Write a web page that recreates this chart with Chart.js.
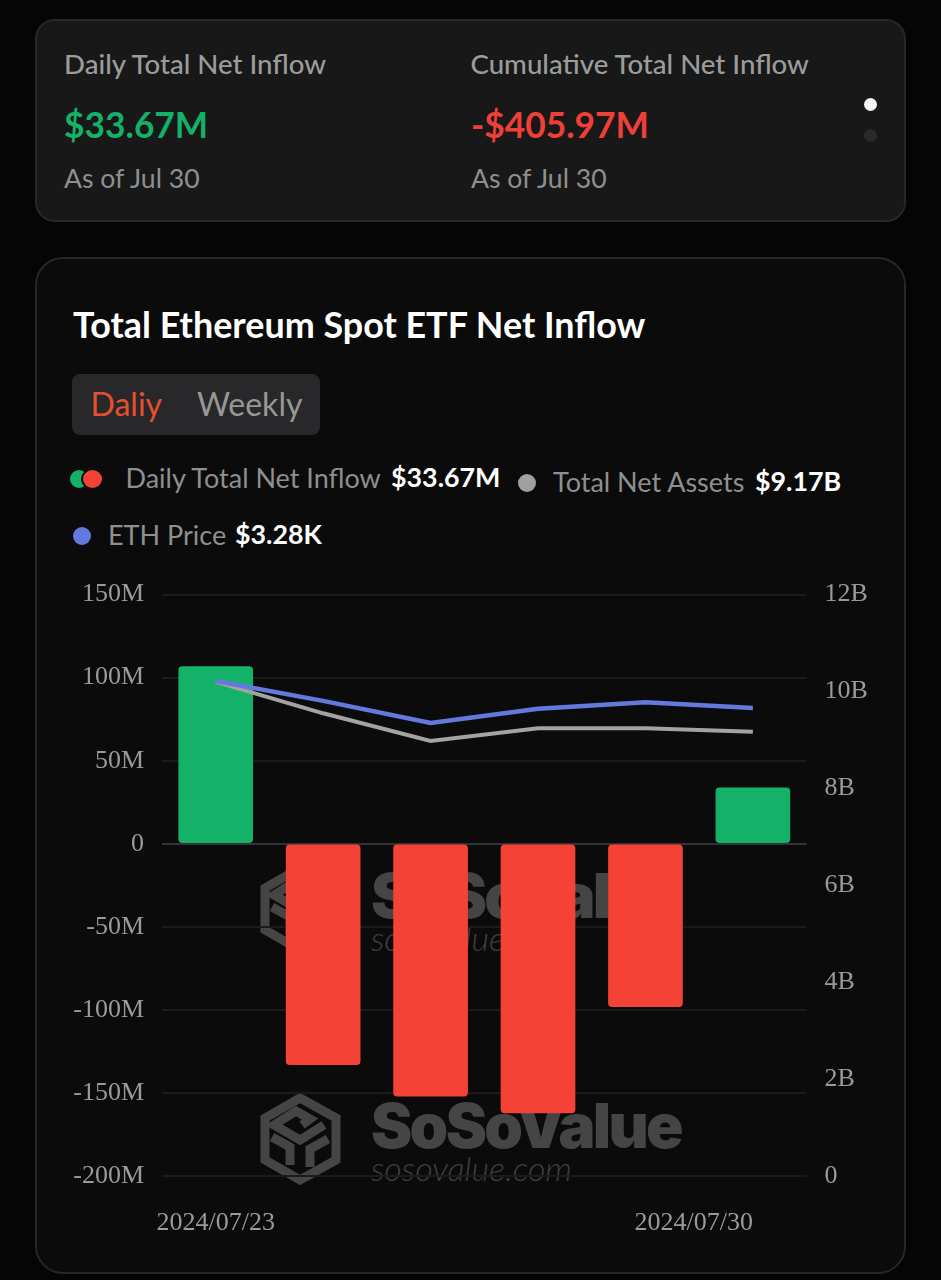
<!DOCTYPE html>
<html><head><meta charset="utf-8">
<script src="https://cdn.jsdelivr.net/npm/chart.js@4"></script>
<style>
html,body{margin:0;padding:0;background:#050505;width:941px;height:1280px;overflow:hidden;font-family:Lato,sans-serif}
.abs{position:absolute;white-space:nowrap;line-height:1}
.card{position:absolute;left:35px;width:867px;box-sizing:content-box;border:2px solid #272728}
#c1{top:19px;height:199px;background:#181818;border-radius:20px}
#c2{top:257px;height:1013px;background:#0b0b0c;border-radius:28px}
.lab{font-size:27.6px;font-weight:500;color:#9c9c9c}
.big{font-size:37px;font-weight:700;transform:scaleX(.955);transform-origin:left center}
.sub{font-size:26.6px;color:#8f8f8f}
.leg{font-size:27px;color:#8f8f8f}
.val{font-size:26.8px;font-weight:700;color:#fff}
.dot{position:absolute;border-radius:50%}
#wrap{position:absolute;left:38px;top:561px;width:830px;height:699px}
.wm{position:absolute;left:260px;width:430px;height:95px;overflow:hidden}
.wm1{font-family:Inter,sans-serif;font-weight:900;font-size:62px;letter-spacing:-2.7px;color:#454545;left:111px;top:2px;position:absolute;line-height:1;white-space:nowrap}
.wm2{font-family:Lato,sans-serif;font-style:italic;font-weight:300;font-size:34px;color:#404040;left:111px;top:58px;position:absolute;line-height:1;white-space:nowrap}
</style></head><body>
<div class="card" id="c1"></div>
<div class="card" id="c2"></div>
<div class="abs lab" style="left:64px;top:50px">Daily Total Net Inflow</div>
<div class="abs lab" style="left:470.5px;top:50px">Cumulative Total Net Inflow</div>
<div class="abs big" style="left:64px;top:105px;color:#14b168">$33.67M</div>
<div class="abs big" style="left:471px;top:105px;color:#ee4038">-$405.97M</div>
<div class="abs sub" style="left:64px;top:165px">As of Jul 30</div>
<div class="abs sub" style="left:471px;top:165px">As of Jul 30</div>
<div class="dot" style="left:864px;top:98px;width:13px;height:13px;background:#f5f5f5"></div>
<div class="dot" style="left:864px;top:129px;width:13px;height:13px;background:#2a2a2b"></div>
<div class="abs" style="left:73px;top:307px;font-size:35.9px;font-weight:700;color:#fff">Total Ethereum Spot ETF Net Inflow</div>
<div style="position:absolute;left:72px;top:374px;width:248px;height:61px;background:#28282a;border-radius:8px"></div>
<div class="abs" style="left:90.5px;top:388px;font-size:32px;color:#e5502f">Daliy</div>
<div class="abs" style="left:197px;top:388px;font-size:32px;color:#979797">Weekly</div>
<div class="dot" style="left:70px;top:470px;width:18px;height:18px;background:#14b168"></div>
<div class="dot" style="left:83px;top:470px;width:19px;height:18px;background:#f44336;box-shadow:-1px 0 0 1px #0b0b0c"></div>
<div class="abs leg" style="left:125.5px;top:464px">Daily Total Net Inflow</div>
<div class="abs val" style="left:391px;top:464px">$33.67M</div>
<div class="dot" style="left:518px;top:474px;width:18px;height:18px;background:#a0a0a0"></div>
<div class="abs leg" style="left:553px;top:468px">Total Net Assets</div>
<div class="abs val" style="left:755px;top:468px">$9.17B</div>
<div class="dot" style="left:73px;top:527px;width:18px;height:18px;background:#6379e0"></div>
<div class="abs leg" style="left:108px;top:521px">ETH Price</div>
<div class="abs val" style="left:235px;top:521px">$3.28K</div>

<svg width="0" height="0" style="position:absolute"><defs><g id="logo" fill="none" stroke="#454545" stroke-width="9" stroke-linejoin="miter">
<polygon points="40,5 76,25 76,67 40,87 5,67 5,25"/>
<path d="M42 32 L50 26 L36 18 L14 32 L40 47 L64 32 M12 44 L30 54 L30 72 M68 46 L50 56 L50 74" />
</g></defs></svg>
<div class="wm" style="top:863px;width:350px"><svg width="82" height="92" style="position:absolute;left:0;top:0"><use href="#logo"/></svg><div class="wm1">SoSoValue</div><div class="wm2">sosovalue.com</div></div>
<div class="wm" style="top:1093px"><svg width="82" height="92" style="position:absolute;left:0;top:0"><use href="#logo"/></svg><div class="wm1">SoSoValue</div><div class="wm2">sosovalue.com</div></div>

<div id="wrap"><canvas id="chart"></canvas></div>
<script>
const categories = ['2024/07/23','2024/07/24','2024/07/25','2024/07/26','2024/07/29','2024/07/30'];
const netInflowM = [106.7, -133, -152, -162, -98, 33.67];
const netAssetsB = [10.2, 9.55, 8.98, 9.24, 9.24, 9.17];
const ethPrice = [3470, 3330, 3175, 3275, 3320, 3280];
const leftTicksM = [150,100,50,0,-50,-100,-150,-200];
const rightTicksB = [0,2,4,6,8,10,12];
const serif = '"Liberation Serif", serif';
const shiftLast = {id:'shiftLast',beforeDraw(chart){
  const items = chart.scales.x.getLabelItems();
  for(const it of items){ if(it.label===categories[categories.length-1]) it.options.textAlign='right'; }
}};
new Chart(document.getElementById('chart'),{
  data:{labels:categories,datasets:[
    {type:'line',label:'ETH Price',data:ethPrice,yAxisID:'yEth',borderColor:'#6379e0',borderWidth:4.5,pointRadius:0,tension:0,order:1},
    {type:'line',label:'Total Net Assets',data:netAssetsB,yAxisID:'yR',borderColor:'#a3a3a3',borderWidth:4,pointRadius:0,tension:0,order:2},
    {type:'bar',label:'Daily Total Net Inflow',data:netInflowM,yAxisID:'yL',barThickness:74,borderRadius:4,borderSkipped:false,
     backgroundColor:netInflowM.map(v=>v>=0?'#14b168':'#f44336'),order:3}
  ]},
  options:{responsive:true,maintainAspectRatio:false,animation:false,
    layout:{padding:{top:14.5,left:0,right:0,bottom:0}},
    plugins:{legend:{display:false},tooltip:{enabled:false}},
    scales:{
      x:{grid:{display:false},border:{display:false},
        afterFit(s){s.height=84},
        ticks:{autoSkip:false,maxRotation:0,minRotation:0,padding:24,color:'#9a9a9a',font:{family:serif,size:26},
          callback(v,i){return (i===0||i===categories.length-1)?categories[i]:''}}},
      yL:{position:'left',min:-200,max:150,
        afterFit(s){s.width=124},
        afterBuildTicks(s){s.ticks=leftTicksM.map(v=>({value:v}))},
        grid:{color:c=>c.tick&&c.tick.value===0?'#333334':'#1b1b1c',lineWidth:2,drawTicks:false},border:{display:false},
        ticks:{padding:18,color:'#9a9a9a',font:{family:serif,size:26},callback:v=>v===0?'0':v+'M'}},
      yR:{position:'right',min:0,max:12,
        afterFit(s){s.width=61.4},
        afterBuildTicks(s){s.ticks=rightTicksB.map(v=>({value:v}))},
        grid:{display:false,drawTicks:false},border:{display:false},
        ticks:{padding:18,color:'#9a9a9a',font:{family:serif,size:26},callback:v=>v===0?'0':v+'B'}},
      yEth:{display:false,min:0,max:4075}
    }
  },
  plugins:[shiftLast]
});
</script>
</body></html>
